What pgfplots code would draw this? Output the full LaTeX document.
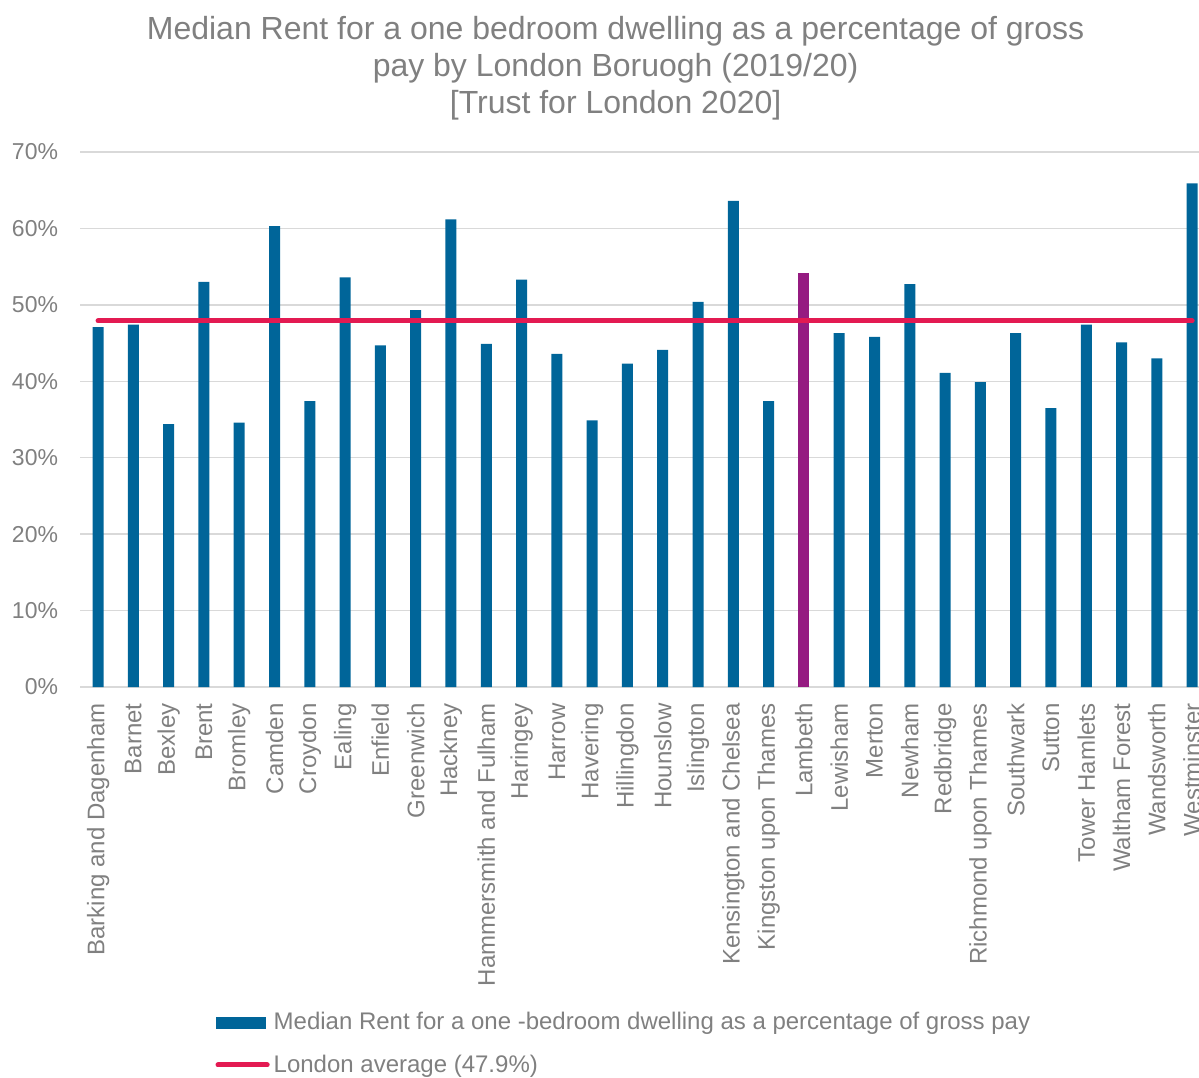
\documentclass[border=0pt]{standalone}
\usepackage{pgfplots}
\pgfplotsset{compat=1.18}
\usepackage{fontspec}
\setmainfont{Liberation Sans}
\definecolor{barblue}{RGB}{0,101,153}
\definecolor{lampurple}{RGB}{149,27,129}
\definecolor{avgred}{RGB}{227,26,82}
\definecolor{txtgray}{RGB}{128,128,128}
\definecolor{gridgray}{RGB}{217,217,217}
\begin{document}
\begin{tikzpicture}
\begin{axis}[
  scale only axis,
  width=559.4pt, height=267.5pt,
  at={(40.2pt,195pt)}, anchor=south west,
  xmin=-0.5, xmax=31.2,
  ymin=0, ymax=70,
  axis line style={draw=none},
  major tick length=0pt,
  ymajorgrids, grid style={gridgray, line width=0.75pt},
  ytick={0,10,20,30,40,50,60,70},
  yticklabels={0\%,10\%,20\%,30\%,40\%,50\%,60\%,70\%},
  yticklabel style={font=\fontsize{11.5}{13}\selectfont, text=txtgray, inner sep=0pt, xshift=-11pt},
  xtick={0,...,31},
  xticklabels={Barking and Dagenham,Barnet,Bexley,Brent,Bromley,Camden,Croydon,Ealing,Enfield,Greenwich,Hackney,Hammersmith and Fulham,Haringey,Harrow,Havering,Hillingdon,Hounslow,Islington,Kensington and Chelsea,Kingston upon Thames,Lambeth,Lewisham,Merton,Newham,Redbridge,Richmond upon Thames,Southwark,Sutton,Tower Hamlets,Waltham Forest,Wandsworth,Westminster},
  xticklabel style={rotate=90, anchor=east, font=\fontsize{12}{13}\selectfont, text=txtgray, inner sep=0pt, xshift=-8pt},
  legend style={draw=none, fill=none, inner sep=0pt, at={(0.1204,-0.6)}, anchor=north west,
    font=\fontsize{12}{13}\selectfont, text=txtgray, row sep=7pt},
  legend cell align=left,
]
\addplot[ybar, bar width=5.5pt, bar shift=0pt, fill=barblue, draw=none,
  legend image code/.code={\fill[barblue] (0pt,-3pt) rectangle (25pt,3pt);}]
  coordinates {
(0,47.1) (1,47.4) (2,34.4) (3,53.0) (4,34.6) (5,60.3) (6,37.4) (7,53.6)
(8,44.7) (9,49.3) (10,61.2) (11,44.9) (12,53.3) (13,43.6) (14,34.9) (15,42.3)
(16,44.1) (17,50.4) (18,63.6) (19,37.4) (21,46.3) (22,45.8) (23,52.7)
(24,41.1) (25,39.9) (26,46.3) (27,36.5) (28,47.4) (29,45.1) (30,43.0) (31,65.9)
};
\addlegendentry{Median Rent for a one -bedroom dwelling as a percentage of gross pay}
\addplot[ybar, bar width=5.5pt, bar shift=0pt, fill=lampurple, draw=none, forget plot]
  coordinates {(20,54.2)};
\addplot[avgred, line width=2.5pt, line cap=round, mark=none,
  legend image code/.code={\draw[avgred, line width=2.5pt, line cap=round] (1.2pt,0pt) -- (25.8pt,0pt);}]
  coordinates {(0,47.9) (31,47.9)};
\addlegendentry{London average (47.9\%)}
\end{axis}
\node[align=center, text=txtgray, font=\fontsize{16}{18.5}\selectfont] at (307.8pt,504.5pt)
  {Median Rent for a one bedroom dwelling as a percentage of gross\\pay by London Boruogh (2019/20)\\{}[Trust for London 2020]};
\pgfresetboundingbox
\useasboundingbox (0,0) rectangle (599.5pt,538.5pt);
\end{tikzpicture}
\end{document}
